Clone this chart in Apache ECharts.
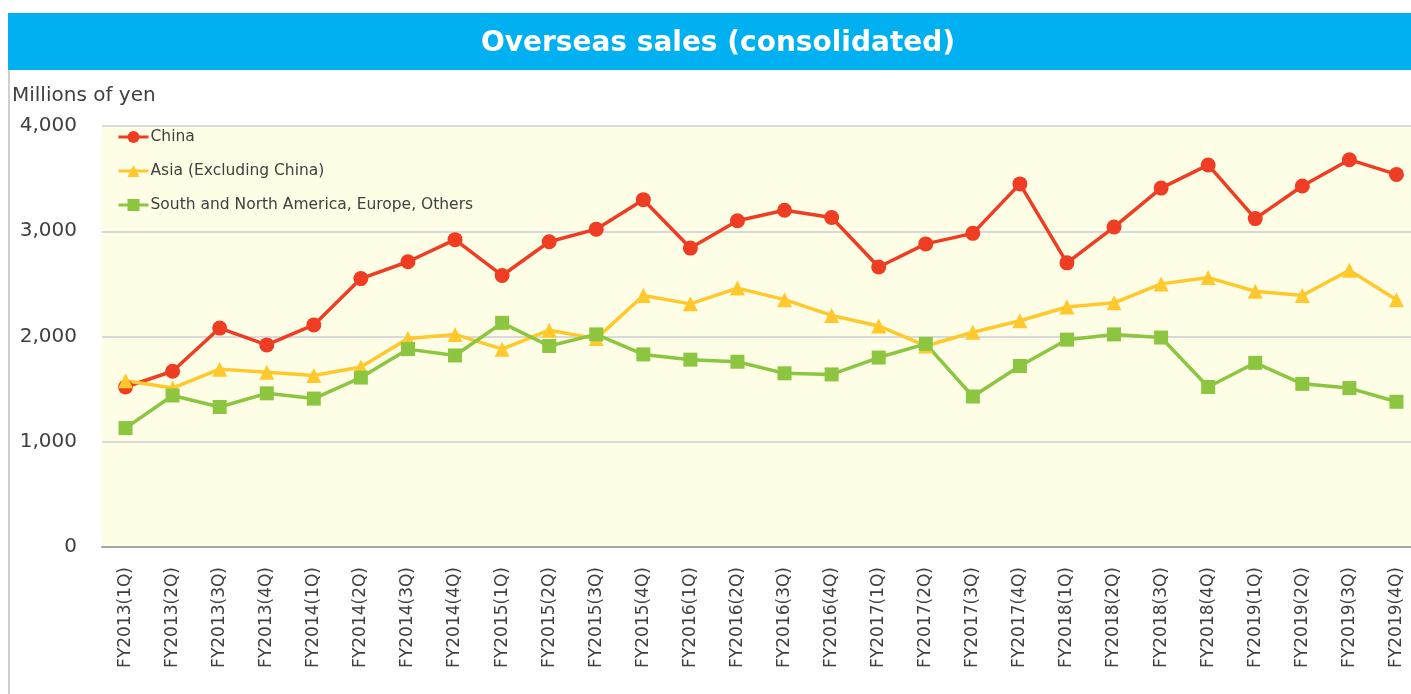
<!DOCTYPE html>
<html>
<head>
<meta charset="utf-8">
<script src="https://cdn.jsdelivr.net/npm/echarts@6/dist/echarts.min.js"></script>
<style>
  html, body { margin: 0; padding: 0; background: #fff; }
  #chart { width: 1411px; height: 694px; }
</style>
</head>
<body>
<div id="chart"></div>
<script>
const quarters = [
  'FY2013(1Q)', 'FY2013(2Q)', 'FY2013(3Q)', 'FY2013(4Q)',
  'FY2014(1Q)', 'FY2014(2Q)', 'FY2014(3Q)', 'FY2014(4Q)',
  'FY2015(1Q)', 'FY2015(2Q)', 'FY2015(3Q)', 'FY2015(4Q)',
  'FY2016(1Q)', 'FY2016(2Q)', 'FY2016(3Q)', 'FY2016(4Q)',
  'FY2017(1Q)', 'FY2017(2Q)', 'FY2017(3Q)', 'FY2017(4Q)',
  'FY2018(1Q)', 'FY2018(2Q)', 'FY2018(3Q)', 'FY2018(4Q)',
  'FY2019(1Q)', 'FY2019(2Q)', 'FY2019(3Q)', 'FY2019(4Q)'
]

const china = [
  1520, 1670, 2080, 1920, 2110, 2550, 2710, 2920,
  2580, 2900, 3020, 3300, 2840, 3100, 3200, 3130,
  2660, 2880, 2980, 3450, 2700, 3040, 3410, 3630,
  3120, 3430, 3680, 3540
]

const asia = [
  1580, 1510, 1690, 1660, 1630, 1710, 1980, 2020,
  1880, 2060, 1980, 2390, 2310, 2460, 2350, 2200,
  2100, 1910, 2040, 2150, 2280, 2320, 2500, 2560,
  2430, 2390, 2630, 2350
]

const others = [
  1130, 1440, 1330, 1460, 1410, 1610, 1880, 1820,
  2130, 1910, 2020, 1830, 1780, 1760, 1650, 1640,
  1800, 1930, 1430, 1720, 1970, 2020, 1990, 1520,
  1750, 1550, 1510, 1380
]

const yTicks = [0, 1000, 2000, 3000, 4000]

const chart = echarts.init(document.getElementById('chart'))
const FONT = '"DejaVu Sans", Verdana, sans-serif'
const textColor = '#404040'

const lineSeries = (name, data, color, symbol, size) => ({
  name,
  type: 'line',
  data,
  symbol,
  symbolSize: size,
  lineStyle: { color, width: 3.5 },
  itemStyle: { color },
  emphasis: { disabled: true },
})

chart.setOption({
  animation: false,
  textStyle: { fontFamily: FONT },
  graphic: [
    // title bar
    { type: 'rect', shape: { x: 8, y: 13, width: 1403, height: 57 }, style: { fill: '#00b0f0' }, z: 0 },
    // left border of the panel
    { type: 'line', shape: { x1: 9, y1: 70, x2: 9, y2: 694 }, style: { stroke: '#cfcfcf', lineWidth: 2 } },
  ],
  title: [
    {
      text: 'Overseas sales (consolidated)',
      left: 713,
      textAlign: 'center',
      top: 25,
      textStyle: { color: '#fff', fontSize: 28, fontWeight: 'bold', fontFamily: FONT },
    },
    {
      text: 'Millions of yen',
      left: 12,
      top: 86,
      padding: 0,
      textStyle: { color: textColor, fontSize: 20, fontWeight: 'normal', fontFamily: FONT },
    },
  ],
  legend: {
    orient: 'vertical',
    left: 117,
    top: 129,
    itemWidth: 30,
    itemHeight: 15,
    itemGap: 18,
    padding: 0,
    lineStyle: { width: 3 },
    textStyle: { color: textColor, fontSize: 15.5, fontFamily: FONT, padding: [0, 0, 0, -3] },
  },
  grid: {
    left: 102,
    top: 126,
    width: 1318,
    height: 421,
    outerBoundsMode: 'none',
    containLabel: false,
    show: true,
    backgroundColor: '#fefee6',
    borderWidth: 0,
  },
  xAxis: {
    type: 'category',
    data: quarters,
    boundaryGap: true,
    axisLine: { lineStyle: { color: '#a6a6a6', width: 2 } },
    axisTick: { show: false },
    axisLabel: {
      interval: 0,
      rotate: 90,
      margin: 20,
      color: textColor,
      fontSize: 17,
      fontFamily: FONT,
    },
  },
  yAxis: {
    type: 'value',
    min: yTicks[0],
    max: yTicks[yTicks.length - 1],
    interval: 1000,
    axisLine: { show: false },
    axisTick: { show: false },
    splitLine: { lineStyle: { color: '#d9d9d9', width: 2 } },
    axisLabel: {
      margin: 25,
      color: textColor,
      fontSize: 20,
      fontFamily: FONT,
      formatter: (v) => v.toLocaleString('en-US'),
    },
  },
  series: [
    lineSeries('China', china, '#ee3d23', 'circle', 15),
    lineSeries('Asia (Excluding China)', asia, '#ffc82c', 'triangle', 15),
    lineSeries('South and North America, Europe, Others', others, '#8cc540', 'rect', 14),
  ],
})

window.addEventListener('resize', () => chart.resize())
</script>
</body>
</html>
